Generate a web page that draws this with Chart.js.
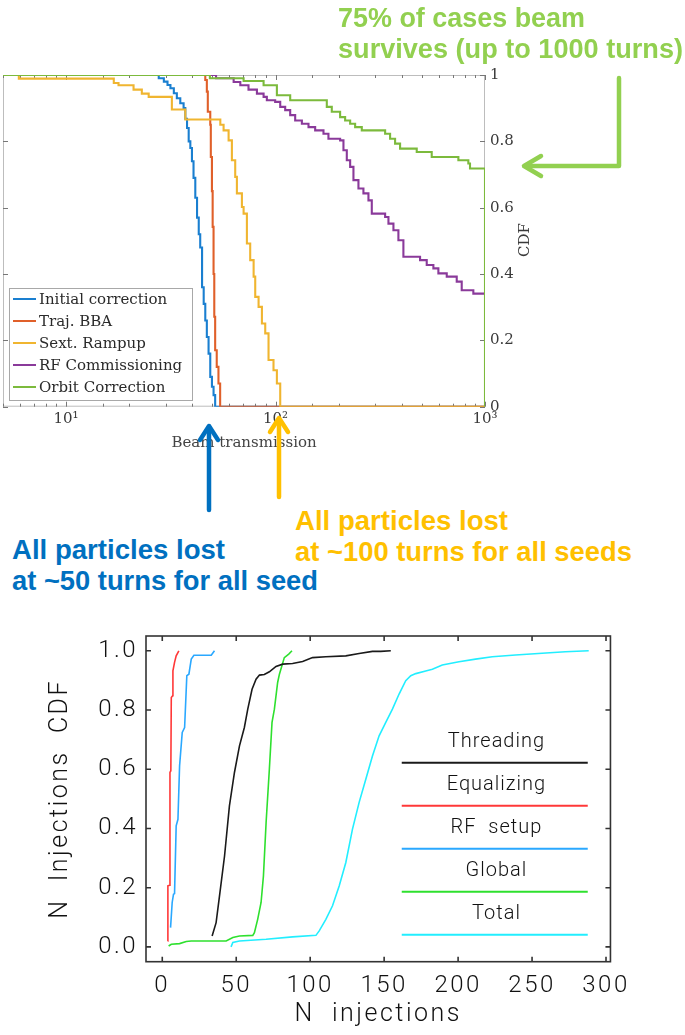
<!DOCTYPE html>
<html><head><meta charset="utf-8">
<script src="https://cdn.jsdelivr.net/npm/chart.js@4.4.1/dist/chart.umd.min.js"></script>
<style>
html,body{margin:0;padding:0;background:#fff;}
body{width:685px;height:1035px;position:relative;overflow:hidden;}
#top{position:absolute;left:0;top:60px;width:545px;height:400px;}
#bot{position:absolute;left:0;top:600px;width:640px;height:435px;}
.note{position:absolute;font-family:"Liberation Sans",Arial,sans-serif;font-weight:bold;font-size:28px;line-height:31px;white-space:nowrap;}
.note span{display:block;transform-origin:0 0;width:max-content;}
svg{position:absolute;left:0;top:0;pointer-events:none;}
</style></head><body>
<div id="top"><canvas id="c1"></canvas></div>
<div id="bot"><canvas id="c2"></canvas></div>

<div class="note" style="left:338px;top:2px;color:#92D050"><span data-w="247">75% of cases beam</span><span data-w="345">survives (up to 1000 turns)</span></div>
<div class="note" style="left:295px;top:505px;color:#FFC000"><span data-w="213">All particles lost</span><span data-w="337">at ~100 turns for all seeds</span></div>
<div class="note" style="left:12px;top:534px;color:#0070C0"><span data-w="213">All particles lost</span><span data-w="306">at ~50 turns for all seed</span></div>

<svg width="685" height="1035">
  <g fill="none" stroke-width="4.5" stroke-linecap="round" stroke-linejoin="round">
    <polyline points="619,78 619,166 525,166" stroke="#92D050"/>
    <polyline points="541,156 524,166 541,176" stroke="#92D050"/>
    <line x1="209" y1="510" x2="209" y2="428" stroke="#0070C0"/>
    <polyline points="200,440 209,426 218,440" stroke="#0070C0"/>
    <line x1="279" y1="497" x2="279" y2="420" stroke="#FFC000"/>
    <polyline points="270,432 279,418 288,432" stroke="#FFC000"/>
  </g>
</svg>

<script>
// ---------- Top chart data (beam transmission, turns vs CDF) ----------
const initTurns = [5, 27.7, 29.3, 30.5, 31.5, 32.7, 33.8, 35.1, 36.4, 37.1, 37.8, 38.5, 39.2, 39.9, 40.6, 41.4, 42.2, 43.0, 43.7, 44.6, 45.4, 46.2, 47.0, 47.9, 48.8, 49.7, 50.6, 51.5, 1000];
const initCdf  = [1, 0.99, 0.98, 0.97, 0.96, 0.945, 0.93, 0.915, 0.90, 0.868, 0.84, 0.80, 0.78, 0.74, 0.69, 0.63, 0.57, 0.52, 0.48, 0.36, 0.31, 0.26, 0.21, 0.16, 0.09, 0.06, 0.035, 0, 0];

const bbaTurns = [5, 46.2, 47.0, 47.5, 48.8, 49.1, 49.7, 50.1, 50.6, 51.0, 51.5, 52.4, 53.4, 54.4, 1000];
const bbaCdf   = [1, 0.985, 0.95, 0.889, 0.85, 0.753, 0.65, 0.542, 0.40, 0.271, 0.17, 0.12, 0.07, 0, 0];

const sextTurns = [5, 5.95, 16.9, 17.8, 21.0, 23.0, 24.8, 32.0, 37.1, 54.5, 56.5, 59.7, 61.9, 64.2, 65.4, 69.1, 70.4, 73.0, 75.7, 78.6, 80.0, 83.0, 86.1, 89.3, 92.6, 97.8, 101.5, 105.3, 1000];
const sextCdf   = [1, 0.989, 0.976, 0.969, 0.956, 0.944, 0.934, 0.896, 0.866, 0.85, 0.833, 0.803, 0.743, 0.693, 0.643, 0.602, 0.582, 0.492, 0.442, 0.392, 0.331, 0.301, 0.251, 0.221, 0.141, 0.110, 0.070, 0, 0];

const rfTurns = [5, 52, 63.1, 67.9, 74.3, 81.5, 87.7, 90.9, 99.6, 105.3, 111.2, 117.5, 124.1, 133.6, 143.7, 154.6, 169.4, 178.9, 203.4, 211.0, 218.9, 227.1, 235.5, 248.8, 262.8, 277.7, 288.1, 333.6, 346.0, 365.5, 386.0, 407.8, 489.8, 527.0, 567.0, 599.0, 656.7, 732.9, 774.2, 879.7, 1000];
const rfCdf   = [1, 0.99, 0.979, 0.969, 0.956, 0.944, 0.934, 0.924, 0.919, 0.904, 0.894, 0.879, 0.863, 0.853, 0.843, 0.833, 0.823, 0.808, 0.803, 0.773, 0.743, 0.723, 0.683, 0.658, 0.643, 0.622, 0.582, 0.572, 0.552, 0.532, 0.502, 0.452, 0.442, 0.427, 0.417, 0.402, 0.392, 0.377, 0.351, 0.341, 0.341];

const orbitTurns = [5, 48.6, 70.4, 87.7, 101.5, 117.5, 175.7, 185.6, 203.4, 214.9, 227.1, 239.9, 258.1, 333.6, 352.3, 372.2, 393.2, 472.2, 556.7, 746.3, 832.6, 848.1, 1000];
const orbitCdf   = [1, 0.99, 0.982, 0.969, 0.939, 0.924, 0.904, 0.889, 0.873, 0.863, 0.853, 0.843, 0.833, 0.823, 0.808, 0.793, 0.778, 0.768, 0.753, 0.743, 0.733, 0.718, 0];

const topLabels = ['Initial correction', 'Traj. BBA', 'Sext. Rampup', 'RF Commissioning', 'Orbit Correction'];
const topColors = ['#1a7fd0', '#e0602a', '#f0b530', '#8a3a9a', '#7cba3c'];
const topYTicks = [0, 0.2, 0.4, 0.6, 0.8, 1];

// ---------- Bottom chart data (N injections vs CDF) ----------
const threadN   = [33.7, 36.4, 38.7, 42.1, 45.4, 48.8, 52.2, 55.5, 57.8, 60.7, 63.4, 65.7, 69.0, 72.4, 76.9, 81.4, 88.1, 94.9, 101.6, 110.6, 124.1, 133.1, 142.1, 147.7, 154.5];
const threadCdf = [0.037, 0.082, 0.172, 0.307, 0.476, 0.589, 0.679, 0.741, 0.803, 0.870, 0.904, 0.918, 0.920, 0.929, 0.947, 0.955, 0.957, 0.964, 0.977, 0.980, 0.983, 0.991, 0.998, 0.998, 1.0];

const equalN   = [3.6, 3.8, 4.9, 5.2, 5.8, 6.1, 7.0, 7.2, 8.3, 9.4, 11.2];
const equalCdf = [0.02, 0.206, 0.208, 0.589, 0.595, 0.842, 0.848, 0.932, 0.961, 0.983, 1.0];

const rfSetupN   = [5.6, 6.7, 7.6, 8.3, 9.4, 10.6, 11.7, 13.5, 15.1, 16.6, 18.0, 19.6, 21.4, 33.1, 35.3];
const rfSetupCdf = [0.065, 0.15, 0.178, 0.18, 0.409, 0.431, 0.611, 0.724, 0.741, 0.916, 0.921, 0.972, 0.985, 0.985, 1.0];

const globalN   = [4.3, 6.1, 11.7, 16.2, 19.6, 43.2, 47.7, 52.2, 61.2, 62.3, 64.5, 66.8, 68.4, 70.2, 72.4, 74.2, 75.8, 78.0, 79.2, 82.5, 85.5, 87.7];
const globalCdf = [0.003, 0.009, 0.011, 0.018, 0.02, 0.02, 0.032, 0.037, 0.039, 0.048, 0.093, 0.15, 0.24, 0.42, 0.60, 0.758, 0.803, 0.893, 0.921, 0.977, 0.989, 1.0];

const totalN   = [46.5, 47.7, 52.2, 70.2, 88.1, 103.9, 106.1, 110.6, 115.1, 119.6, 124.1, 128.6, 133.1, 137.6, 142.1, 146.6, 151.1, 155.6, 160.1, 164.6, 168.0, 171.4, 178.1, 182.6, 189.3, 200.6, 211.8, 223.1, 238.8, 256.8, 272.5, 288.3];
const totalCdf = [0.0, 0.015, 0.02, 0.026, 0.034, 0.039, 0.054, 0.093, 0.139, 0.206, 0.285, 0.398, 0.488, 0.566, 0.645, 0.713, 0.758, 0.803, 0.854, 0.899, 0.916, 0.923, 0.932, 0.938, 0.952, 0.963, 0.972, 0.980, 0.986, 0.992, 0.997, 1.0];

const botLabels = ['Threading', 'Equalizing', 'RF  setup', 'Global', 'Total'];
const botColors = ['#1a1a1a', '#ff3838', '#2aa8ff', '#2ee02e', '#22eeff'];

const pts = (xs, ys) => xs.map((x, i) => ({x: x, y: ys[i]}));
const sup = {1: '\u00b9', 2: '\u00b2', 3: '\u00b3'};

// ---------- plugins ----------
const frame1 = {
  id: 'frame1',
  beforeDatasetsDraw(chart) {
    const {ctx, chartArea: a, scales: {x, y}} = chart;
    ctx.save();
    ctx.strokeStyle = '#bdbdbd'; ctx.lineWidth = 1;
    ctx.strokeRect(a.left + 0.5, a.top + 0.5, a.width - 1, a.height - 1);
    ctx.strokeStyle = '#777';
    ctx.beginPath();
    x.ticks.forEach(t => {
      const l = Math.log10(t.value);
      const major = Math.abs(l - Math.round(l)) < 1e-6;
      const L = major ? 5 : 3;
      const p = Math.round(x.getPixelForValue(t.value)) + 0.5;
      ctx.moveTo(p, a.bottom); ctx.lineTo(p, a.bottom - L);
      ctx.moveTo(p, a.top); ctx.lineTo(p, a.top + L);
    });
    y.ticks.forEach(t => {
      const p = Math.round(y.getPixelForValue(t.value)) + 0.5;
      ctx.moveTo(a.left, p); ctx.lineTo(a.left + 5, p);
      ctx.moveTo(a.right, p); ctx.lineTo(a.right - 5, p);
    });
    ctx.stroke();
    ctx.restore();
  },
  afterDatasetsDraw(chart) {
    const {ctx, chartArea: a} = chart;
    const bw = 183, bh = 112, bx = a.left + 6, by = a.bottom - 6.7 - bh;
    ctx.save();
    ctx.fillStyle = '#fff'; ctx.fillRect(bx, by, bw, bh);
    ctx.strokeStyle = '#a8a8a8'; ctx.lineWidth = 1;
    ctx.strokeRect(bx + 0.5, by + 0.5, bw, bh);
    ctx.font = '15px "DejaVu Serif"';
    ctx.textBaseline = 'middle'; ctx.textAlign = 'left';
    chart.data.datasets.forEach((d, i) => {
      const yy = by + 11 + 22 * i;
      ctx.strokeStyle = d.borderColor; ctx.lineWidth = 2;
      ctx.beginPath(); ctx.moveTo(bx + 4, yy); ctx.lineTo(bx + 27, yy); ctx.stroke();
      ctx.fillStyle = '#2a2a2a';
      ctx.fillText(d.label, bx + 30, yy + 1);
    });
    ctx.restore();
  },
  afterDraw(chart) {
    const {ctx} = chart;
    ctx.save();
    ctx.translate(525, 180);
    ctx.rotate(-Math.PI / 2);
    ctx.font = '15px "DejaVu Serif"';
    ctx.fillStyle = '#3a3a3a';
    ctx.textAlign = 'center'; ctx.textBaseline = 'middle';
    ctx.fillText('CDF', 0, 0);
    ctx.restore();
  }
};

const series1 = [[initTurns, initCdf], [bbaTurns, bbaCdf], [sextTurns, sextCdf], [rfTurns, rfCdf], [orbitTurns, orbitCdf]];

new Chart(document.getElementById('c1'), {
  type: 'line',
  data: {
    datasets: series1.map((s, i) => ({
      label: topLabels[i],
      data: pts(s[0], s[1]),
      borderColor: topColors[i],
      backgroundColor: topColors[i],
      borderWidth: 2.1,
      stepped: 'before',
      pointRadius: 0,
      fill: false,
      order: 5 - i
    }))
  },
  options: {
    responsive: true, maintainAspectRatio: false, animation: false,
    layout: {padding: {left: 3, top: 15, right: 0, bottom: 0}},
    plugins: {legend: {display: false}, tooltip: {enabled: false}},
    scales: {
      x: {
        type: 'logarithmic', min: 5, max: 1000,
        grid: {display: false, drawTicks: false}, border: {display: false},
        ticks: {
          autoSkip: false, maxRotation: 0, minRotation: 0, padding: 3,
          color: '#3a3a3a', font: {family: 'DejaVu Serif', size: 15},
          callback: (v) => {
            const l = Math.log10(v);
            const r = Math.round(l);
            return Math.abs(l - r) < 1e-6 && sup[r] ? '10' + sup[r] : '';
          }
        },
        title: {display: true, text: 'Beam transmission', color: '#444', font: {family: 'DejaVu Serif', size: 15}, padding: {top: 0, bottom: 8}},
        afterFit: (s) => { s.height = 53.3; }
      },
      y: {
        position: 'right', min: 0, max: 1,
        grid: {display: false, drawTicks: false}, border: {display: false},
        afterBuildTicks: (s) => { s.ticks = topYTicks.map(v => ({value: v})); },
        ticks: {
          padding: 5, color: '#3a3a3a', font: {family: 'DejaVu Serif', size: 15},
          callback: (v) => (v === 0 || v === 1) ? String(v) : v.toFixed(1)
        },
        afterFit: (s) => { s.width = 60; }
      }
    }
  },
  plugins: [frame1]
});

// ---------- bottom chart ----------
const spacing2 = {
  id: 'spacing2',
  beforeLayout(chart) { chart.ctx.letterSpacing = '2.5px'; },
  beforeDraw(chart) { chart.ctx.letterSpacing = '2.5px'; },
  afterDatasetsDraw(chart) {
    const {ctx, chartArea: a, scales: {x, y}} = chart;
    ctx.save();
    ctx.strokeStyle = '#333'; ctx.lineWidth = 1.6;
    ctx.strokeRect(a.left, a.top, a.width, a.height);
    ctx.beginPath();
    x.ticks.forEach(t => {
      const p = x.getPixelForValue(t.value);
      ctx.moveTo(p, a.bottom); ctx.lineTo(p, a.bottom - 5);
      ctx.moveTo(p, a.top); ctx.lineTo(p, a.top + 5);
    });
    y.ticks.forEach(t => {
      const p = y.getPixelForValue(t.value);
      ctx.moveTo(a.left, p); ctx.lineTo(a.left + 5, p);
      ctx.moveTo(a.right, p); ctx.lineTo(a.right - 5, p);
    });
    ctx.stroke();
    // legend
    ctx.letterSpacing = '1px';
    ctx.font = '300 20px Roboto';
    ctx.textAlign = 'center'; ctx.textBaseline = 'middle';
    chart.data.datasets.forEach((d, i) => {
      const ty = a.top + 106 + 43 * i;
      ctx.fillStyle = '#111';
      ctx.fillText(d.label, a.right - 114, ty);
      ctx.strokeStyle = d.borderColor; ctx.lineWidth = 2;
      ctx.beginPath();
      ctx.moveTo(a.right - 208.7, ty + 20.7); ctx.lineTo(a.right - 22.7, ty + 20.7);
      ctx.stroke();
    });
    ctx.restore();
  }
};

const series2 = [[threadN, threadCdf], [equalN, equalCdf], [rfSetupN, rfSetupCdf], [globalN, globalCdf], [totalN, totalCdf]];
const botFont = {family: 'Roboto', size: 24, weight: 300};

new Chart(document.getElementById('c2'), {
  type: 'line',
  data: {
    datasets: series2.map((s, i) => ({
      label: botLabels[i],
      data: pts(s[0], s[1]),
      borderColor: botColors[i],
      backgroundColor: botColors[i],
      borderWidth: 1.6,
      pointRadius: 0,
      tension: 0,
      fill: false
    }))
  },
  options: {
    responsive: true, maintainAspectRatio: false, animation: false,
    layout: {padding: {left: 0, top: 36, right: 28.3, bottom: 0}},
    plugins: {legend: {display: false}, tooltip: {enabled: false}},
    scales: {
      x: {
        type: 'linear', min: -11, max: 303,
        grid: {display: false, drawTicks: false}, border: {display: false},
        ticks: {stepSize: 50, includeBounds: false, autoSkip: false, maxRotation: 0, padding: 10, color: '#111', font: botFont},
        title: {display: true, text: 'N  injections', color: '#111', font: {family: 'Roboto', size: 25, weight: 300}, padding: {top: 0, bottom: 5}},
        afterFit: (s) => { s.height = 73.3; }
      },
      y: {
        min: -0.05, max: 1.05,
        grid: {display: false, drawTicks: false}, border: {display: false},
        ticks: {stepSize: 0.2, includeBounds: false, padding: 8, color: '#111', font: botFont, callback: (v) => v.toFixed(1)},
        title: {display: true, text: 'N  Injections  CDF', color: '#111', font: {family: 'Roboto', size: 25, weight: 300}, padding: {top: 46, bottom: 0}},
        afterFit: (s) => { s.width = 146; }
      }
    }
  },
  plugins: [spacing2]
});

// fit annotation lines to measured widths
document.querySelectorAll('.note span').forEach(sp => {
  const w = sp.getBoundingClientRect().width;
  const t = parseFloat(sp.dataset.w);
  if (w > 0) sp.style.transform = 'scaleX(' + (t / w).toFixed(4) + ')';
});
</script>
</body></html>
